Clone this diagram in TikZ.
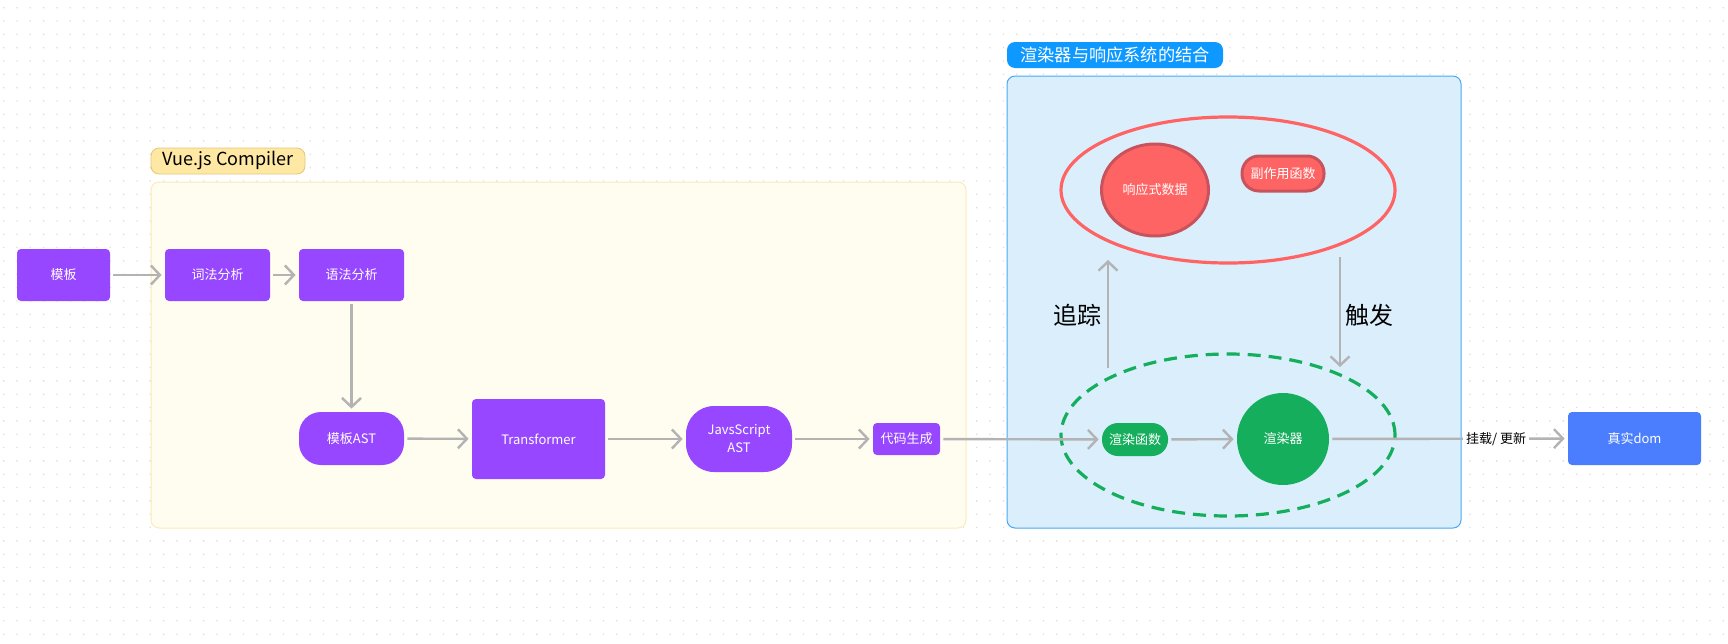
\documentclass[tikz,border=0pt]{standalone}
\usepackage{fontspec}
\setmainfont{Noto Sans CJK SC}
\usetikzlibrary{arrows.meta,shapes.geometric}

\definecolor{vpurple}{HTML}{9747FF}
\definecolor{ggreen}{HTML}{14AE5C}
\definecolor{rred}{HTML}{FF6464}
\definecolor{rdark}{HTML}{C9535C}
\definecolor{dblue}{HTML}{4A7EFF}
\definecolor{lblue}{HTML}{0D99FF}
\definecolor{bluebg}{HTML}{DAEEFC}
\definecolor{blueline}{HTML}{47A9F2}
\definecolor{ylabel}{HTML}{FFE8A3}
\definecolor{yborder}{HTML}{E3C677}
\definecolor{ybg}{HTML}{FFFCF0}
\definecolor{yline}{HTML}{FBEBBA}
\definecolor{lgray}{HTML}{B3B3B3}
\definecolor{dotgray}{HTML}{DCDCDC}

\tikzset{
  box/.style={fill=vpurple, text=white, rounded corners=2pt, inner sep=0pt,
    font=\fontsize{6.5}{9}\selectfont},
  arr/.style={draw=lgray, line width=1.2pt, shorten <=1.5pt, shorten >=1.5pt,
    -{Straight Barb[length=4.5pt,width=9.5pt]}},
  frame/.style={rounded corners=4pt, inner sep=0pt, line width=0.5pt},
  tag/.style={rounded corners=4pt, inner sep=0pt, minimum height=13pt,
    font=\fontsize{8.6}{10}\selectfont}
}

\begin{document}
\begin{tikzpicture}[x=0.5pt,y=-0.5pt]
\useasboundingbox (0,0) rectangle (1728,643);
% dot grid
\fill[dotgray] foreach \i in {0,...,129} { foreach \j in {0,...,47} {
  (3+\i*13.33,7+\j*13.33) rectangle ++(1.3,1.3) } };

% groups
\node[frame, fill=ybg, draw=yline, minimum width=407.5pt, minimum height=173pt] (cmp) at (558.5,355) {};
\node[tag, fill=ylabel, draw=yborder, minimum width=77pt, font=\fontsize{9}{10}\selectfont] (cmpTag) at (228,161) {Vue.js Compiler};
\node[frame, fill=bluebg, draw=blueline, minimum width=227pt, minimum height=226pt] (mix) at (1234,302) {};
\node[tag, fill=lblue, text=white, minimum width=108pt] (mixTag) at (1115,55) {渲染器与响应系统的结合};

% compiler
\node[box, minimum width=46.5pt, minimum height=26pt] (tpl) at (63.5,275) {模板};
\node[box, minimum width=52.5pt, minimum height=26pt] (lex) at (217.5,275) {词法分析};
\node[box, minimum width=52.5pt, minimum height=26pt] (syn) at (351.5,275) {语法分析};
\node[box, rounded corners=11pt, minimum width=52.5pt, minimum height=26.5pt] (ast) at (351.5,438.5) {模板AST};
\node[box, minimum width=66.5pt, minimum height=40pt] (trans) at (538.5,439) {Transformer};
\node[box, rounded corners=14pt, minimum width=53pt, minimum height=33pt, align=center] (jsast) at (739,439) {JavsScript\\AST};
\node[box, minimum width=33.5pt, minimum height=16pt] (gen) at (906.5,439) {代码生成};

% reactivity
\node[ellipse, draw=rred, line width=1.6pt, minimum width=167pt, minimum height=73pt] (effect) at (1228,190) {};
\node[ellipse, box, fill=rred, draw=rdark, line width=1.5pt, minimum width=53.5pt, minimum height=46pt] (data) at (1155,190) {响应式数据};
\node[box, fill=rred, draw=rdark, line width=1.5pt, rounded corners=8.5pt, minimum width=41pt, minimum height=17.5pt] (side) at (1283,173.5) {副作用函数};
\node[ellipse, draw=ggreen, line width=1.6pt, dash pattern=on 6.5pt off 4pt, minimum width=167pt, minimum height=81pt] (render) at (1228,435) {};
\node[box, fill=ggreen, rounded corners=8pt, minimum width=33pt, minimum height=16.5pt] (rfn) at (1135,439.5) {渲染函数};
\node[box, circle, fill=ggreen, minimum size=46pt] (rdr) at (1283,439) {渲染器};
\node[box, fill=dblue, minimum width=66.5pt, minimum height=26.5pt] (dom) at (1634.5,438.5) {真实dom};

\coordinate (trk0) at (1108,368);
\coordinate (trk1) at (1108,260);
\coordinate (trg0) at (1340,257);
\coordinate (trg1) at (1340,367);

% arrows
\draw[arr] (tpl) -- (lex);
\draw[arr] (lex) -- (syn);
\draw[arr] (syn) -- (ast);
\draw[arr] (ast) -- (trans);
\draw[arr] (trans) -- (jsast);
\draw[arr] (jsast) -- (gen);
\draw[arr] (gen) -- (rfn);
\draw[arr] (rfn) -- (rdr);
\draw[arr] (rdr) -- node[pos=0.7, fill=white, inner sep=1.5pt, font=\fontsize{6.5}{8}\selectfont] (mount) {挂载/ 更新} (dom);
\draw[arr, shorten <=0pt, shorten >=0pt] (trk0) -- (trk1);
\draw[arr, shorten <=0pt, shorten >=0pt] (trg0) -- (trg1);
%Text
\node[font=\fontsize{12}{14}\selectfont] (track) at (1077,315) {追踪};
\node[font=\fontsize{12}{14}\selectfont] (trigger) at (1369,315) {触发};
\end{tikzpicture}
\end{document}
